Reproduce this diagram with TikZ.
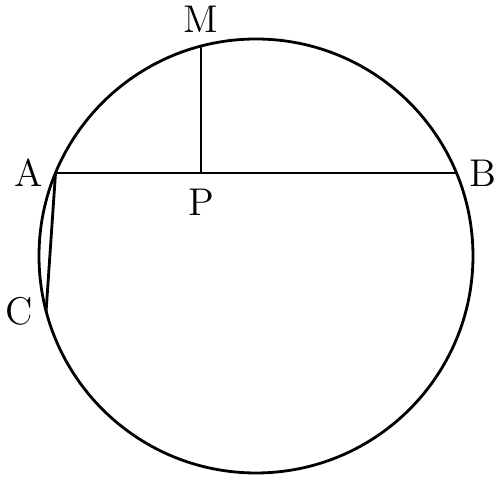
\documentclass[tikz,border=0pt]{standalone}
\usepackage{tikz}
\usepackage{amsmath}

\begin{document}
\begin{tikzpicture}[thick,font=\fontsize{11}{13}\selectfont]
        \useasboundingbox(-2.56,-2.21)rectangle(2.48,2.56);
        \coordinate(O)at(0,0);
        \coordinate(A)at(157.5:2.17);
        \coordinate(B)at(22.5:2.17);
        \coordinate(M)at(104.7:2.17);
        \coordinate(C)at(194.7:2.17);
        \coordinate(P)at(M|-A);

        \draw(O)circle(2.17);
        \draw(A)--(B);
        \draw(M)--(P);
        \draw(A)--(C);

        \node[left]at(A){A};
        \node[right]at(B){B};
        \node[above]at(M){M};
        \node[below,yshift=-1pt]at(P){P};
        \node[left]at(C){C};
    \end{tikzpicture}
\end{document}
